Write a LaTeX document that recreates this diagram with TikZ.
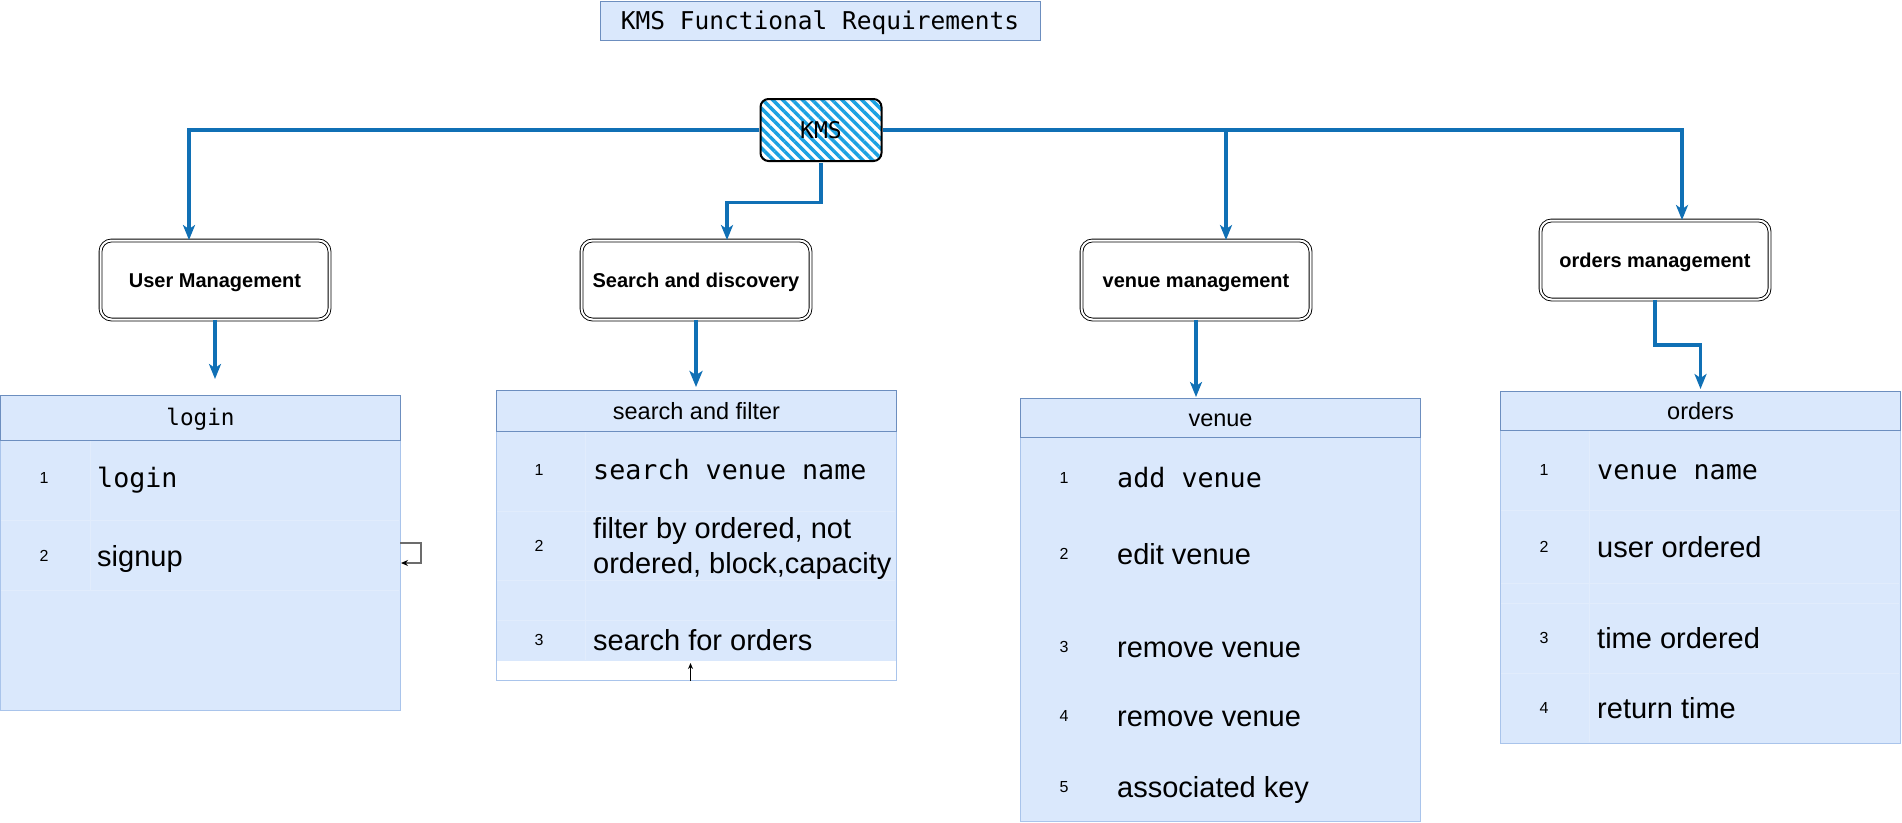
\documentclass[tikz,border=0pt]{standalone}
\usepackage{fontspec}
\setmainfont{Liberation Sans}
\setmonofont{DejaVu Sans Mono}
\usetikzlibrary{arrows.meta}
\usetikzlibrary{patterns.meta}
\usetikzlibrary{positioning}

\definecolor{flowblue}{HTML}{1070B5}
\definecolor{kmsblue}{HTML}{1BA1E2}
\definecolor{cellfill}{HTML}{DAE8FC}
\definecolor{headline}{HTML}{6C8EBF}
\definecolor{bodyline}{HTML}{A9C4EB}
\definecolor{sepcolor}{HTML}{E1ECFC}

\tikzset{
	flow/.style = {draw=flowblue, line width=3.4pt, -{Stealth[length=15pt,width=12pt,inset=4pt]}},
	titlebox/.style = {draw=headline, fill=cellfill, line width=1pt, minimum width=440pt, minimum height=39pt,
		font=\ttfamily\fontsize{24.5}{29}\selectfont, text height=22pt, text depth=5pt},
	kmsbox/.style = {draw, line width=2pt, rounded corners=8pt, minimum width=121pt, minimum height=62pt,
		pattern={Lines[angle=-45,distance=7pt,line width=3.5pt]}, pattern color=kmsblue,
		font=\ttfamily\fontsize{23}{27}\selectfont, text height=20.7pt, text depth=4.6pt},
	mgmtbox/.style = {draw, double, double distance=2pt, line width=0.9pt, rounded corners=11pt,
		minimum width=229pt, minimum height=79pt,
		font=\bfseries\fontsize{20}{24}\selectfont, text height=18pt, text depth=4pt},
	tablehead/.style = {draw=headline, fill=cellfill, line width=1pt, anchor=north west, minimum width=400pt},
	tablebody/.style = {draw=bodyline, fill=cellfill, line width=1pt, anchor=north west, minimum width=400pt},
	tableframe/.style = {draw=bodyline, line width=1pt, anchor=north west, minimum width=400pt},
	rowsep/.style = {draw=sepcolor, line width=1pt},
	headsans/.style = {font=\fontsize{23.5}{28}\selectfont, text height=21pt, text depth=4.6pt},
	headmono/.style = {font=\ttfamily\fontsize{22.7}{27}\selectfont, text height=20.4pt, text depth=4.5pt},
	numtext/.style = {font=\fontsize{16}{19}\selectfont},
	itemsans/.style = {anchor=west, inner sep=0pt, font=\fontsize{29}{35}\selectfont, text height=26pt, text depth=6pt},
	itemmono/.style = {anchor=west, inner sep=0pt, font=\ttfamily\fontsize{26.7}{32}\selectfont, text height=24pt, text depth=5.5pt},
	loopback/.style = {draw=gray!85!black, line width=1.2pt, -{Stealth[length=7pt,width=6pt,black]}},
}

\begin{document}
\begin{tikzpicture}[x=1pt, y=-1pt]
	\useasboundingbox (0,0) rectangle (1902,822);

	% title and root
	\node [titlebox] (title) at (820,21) {KMS Functional Requirements};
	\node [kmsbox] (kms) at (821,130) {KMS};

	% management boxes
	\node [mgmtbox] (user) at (215,280) {User Management};
	\node [mgmtbox] (search) at (696,280) {Search and discovery};
	\node [mgmtbox] (venue) at (1196,280) {venue management};
	\node [mgmtbox] (orders) at (1655,260) {orders management};

	\draw [flow] (kms.west) -| ([xshift=-26pt]user.north);
	\draw [flow] (kms.south) -- ++(0,40) -| ([xshift=31pt]search.north);
	\draw [flow] (kms.east) -| ([xshift=30pt]venue.north);
	\draw [flow] (kms.east) -| ([xshift=27pt]orders.north);

	% login table
	\node [tablebody, minimum height=270pt] (loginbody) at (0,440) {};
	\node [tablehead, minimum height=45pt, headmono] (loginhead) at (0,395) {login};
	\foreach \y in {520,590}
		\draw [rowsep] (1,\y) -- (399,\y);
	\draw [rowsep] (90,441) -- (90,590);
	\foreach \n/\y in {1/478,2/556}
		\node [numtext] (loginnum\n) at (44,\y) {\n};
	\node [itemmono] (loginitem1) at (97,478) {login};
	\node [itemsans] (loginitem2) at (97,556) {signup};

	\coordinate (loopout) at (400,543);
	\coordinate (loopin) at (401,563);
	\draw [loopback] (loopout) -- ++(21,0) |- (loopin);

	% search table
	\node [tablebody, draw=none, minimum height=229pt] (searchbody) at (496,431) {};
	\node [tableframe, minimum height=290pt] (searchframe) at (496,390) {};
	\node [tablehead, minimum height=41pt, headsans] (searchhead) at (496,390) {search and filter};
	\foreach \y in {511,580,620}
		\draw [rowsep] (497,\y) -- (895,\y);
	\draw [rowsep] (585,432) -- (585,660);
	\foreach \n/\y in {1/470,2/546,3/640}
		\node [numtext] (searchnum\n) at (539,\y) {\n};
	\node [itemmono] (searchitem1) at (593,470) {search venue name};
	\node [anchor=west, inner sep=0pt, align=left, font=\fontsize{29}{35}\selectfont] (searchitem2) at (593,548)
		{filter by ordered, not\\ordered, block,capacity};
	\node [itemsans] (searchitem3) at (593,640) {search for orders};
	\draw [-{Stealth[length=6pt,width=5pt]}, line width=1pt] ([xshift=-6pt]searchframe.south) -- ([xshift=-6pt,yshift=-2pt]searchbody.south);

	% venue table
	\node [tablebody, minimum height=384pt] (venuebody) at (1020,437) {};
	\node [tablehead, minimum height=39pt, headsans] (venuehead) at (1020,398) {venue};
	\foreach \n/\y in {1/478,2/554,3/647,4/716,5/787}
		\node [numtext] (venuenum\n) at (1064,\y) {\n};
	\node [itemmono] (venueitem1) at (1117,478) {add venue};
	\node [itemsans] (venueitem2) at (1117,554) {edit venue};
	\node [itemsans] (venueitem3) at (1117,647) {remove venue};
	\node [itemsans] (venueitem4) at (1117,716) {remove venue};
	\node [itemsans] (venueitem5) at (1117,787) {associated key};

	% orders table
	\node [tablebody, minimum height=313pt] (ordersbody) at (1500,430) {};
	\node [tablehead, minimum height=39pt, headsans] (ordershead) at (1500,391) {orders};
	\foreach \y in {510,583,603,673}
		\draw [rowsep] (1501,\y) -- (1899,\y);
	\draw [rowsep] (1589,431) -- (1589,742);
	\foreach \n/\y in {1/470,2/547,3/638,4/708}
		\node [numtext] (ordersnum\n) at (1544,\y) {\n};
	\node [itemmono] (ordersitem1) at (1597,470) {venue name};
	\node [itemsans] (ordersitem2) at (1597,547) {user ordered};
	\node [itemsans] (ordersitem3) at (1597,638) {time ordered};
	\node [itemsans] (ordersitem4) at (1597,708) {return time};

	% boxes to tables
	\draw [flow] (user.south) -- ([yshift=16pt]user.south |- loginhead.north);
	\draw [flow, line width=4.5pt, -{Stealth[length=16pt,width=13pt,inset=4pt]}] (search.south) -- ([yshift=3pt]search.south |- searchhead.north);
	\draw [flow] (venue.south) -- ([yshift=1pt]venue.south |- venuehead.north);
	\draw [flow] (orders.south) |- ([yshift=46pt]ordershead.north) -- ([yshift=2pt]ordershead.north);
\end{tikzpicture}
\end{document}
